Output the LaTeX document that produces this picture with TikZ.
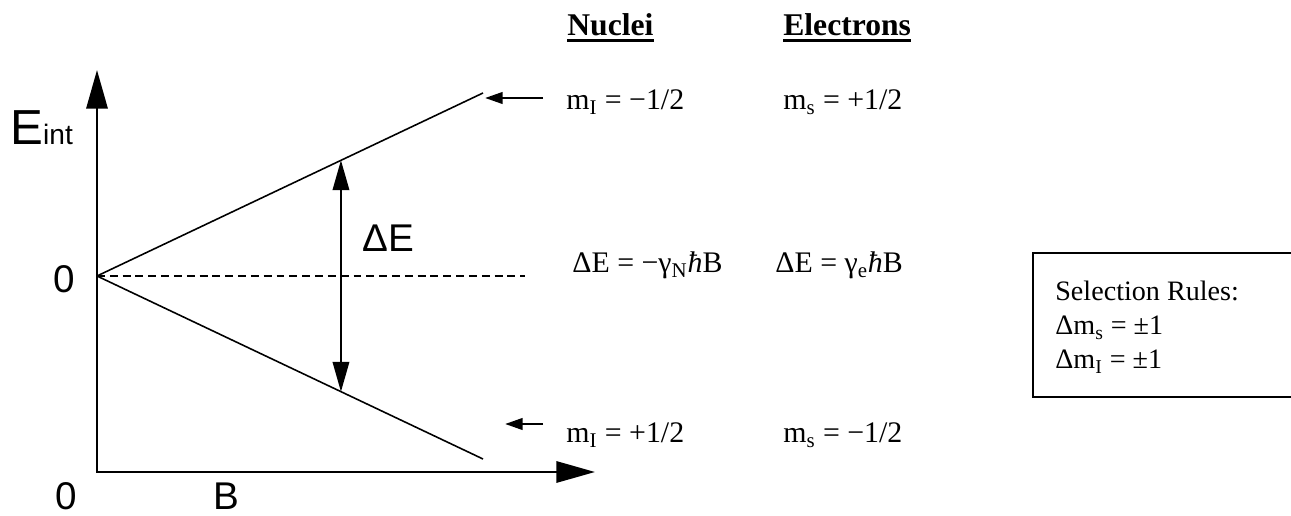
\documentclass[tikz,border=0pt]{standalone}
\usepackage{fontspec}
\setmainfont{Liberation Serif}
\newfontfamily\arialfont{Liberation Sans}
\usetikzlibrary{arrows.meta}
\usetikzlibrary{calc}

\tikzset{
  axis/.style={line width=1.7pt,{Triangle[length=22pt,width=12pt]}-{Triangle[length=22pt,width=12pt]}},
  level/.style={line width=0.9pt},
  gap/.style={line width=0.85pt,{Triangle[length=17pt,width=9.5pt]}-{Triangle[length=17pt,width=9.5pt]}},
  pointer/.style={line width=1.5pt,-{Triangle[length=10pt,width=6.5pt]}},
  txt/.style={inner sep=0pt,anchor=base west,font=\fontsize{17}{20}\selectfont},
  head/.style={inner sep=0pt,anchor=base west,font=\bfseries\fontsize{18}{21}\selectfont},
  rule/.style={inner sep=0pt,anchor=base west,font=\fontsize{16}{19}\selectfont},
  sans/.style={inner sep=0pt,anchor=base west,font=\arialfont\fontsize{22}{26}\selectfont},
}
\newcommand{\hb}{{\itshape ħ}}

\begin{document}
\begin{tikzpicture}[x=0.02cm,y=-0.02cm]
        \useasboundingbox (0,0) rectangle (1291,516);
        % axes
        \coordinate (ytip) at (97,70);
        \coordinate (origin) at (97,472);
        \coordinate (xtip) at (595,472);
        \draw[axis] (ytip) -- (origin) -- (xtip);
        \node[sans,font=\arialfont\fontsize{28}{30}\selectfont] (eint) at (10,145) {E{\fontsize{16}{18}\selectfont int}};
        \node[sans] (zeroE) at (53,293) {0};
        \node[sans] (zeroB) at (55,509) {0};
        \node[sans] (bfield) at (213,509) {B};
        % energy levels
        \coordinate (zero) at (97,276);
        \coordinate (up) at (483,93);
        \coordinate (lo) at (483,459);
        \coordinate (dend) at (525,276);
        \draw[level] (zero) -- (up);
        \draw[level] (zero) -- (lo);
        \draw[line width=0.8pt,dash pattern=on 4.5pt off 2.8pt] (zero) -- (dend);
        \coordinate (du) at ($(zero)!0.632!(up)$);
        \coordinate (dl) at ($(zero)!0.632!(lo)$);
        \draw[gap] (du) -- (dl);
        \node[sans] (dE) at (362,252) {ΔE};
        % labels
        \node[head] (nuc) at (567,36) {Nuclei};
        \node[head] (ele) at (783,36) {Electrons};
        \draw[line width=1.4pt] ([yshift=-2.6pt]nuc.base west) -- ([yshift=-2.6pt]nuc.base east);
        \draw[line width=1.4pt] ([yshift=-2.6pt]ele.base west) -- ([yshift=-2.6pt]ele.base east);
        \node[txt] (mIup) at (566,110) {m\textsubscript{I} = −1/2};
        \node[txt] (msup) at (783,110) {m\textsubscript{s} = +1/2};
        \node[txt] (dEN) at (572,273) {ΔE = −γ\textsubscript{N}\hb B};
        \node[txt] (dEe) at (775,273) {ΔE = γ\textsubscript{e}\hb B};
        \node[txt] (mIlo) at (566,443) {m\textsubscript{I} = +1/2};
        \node[txt] (mslo) at (783,443) {m\textsubscript{s} = −1/2};
        \coordinate (pa) at (543,98);
        \coordinate (pb) at (485,98);
        \coordinate (pc) at (543,424);
        \coordinate (pd) at (505,424);
        \draw[pointer] (pa) -- (pb);
        \draw[pointer] (pc) -- (pd);
        % selection rules
        \draw[line width=1.1pt] (1033,253) rectangle (1295,397);
        \node[rule] (sel) at (1055,301) {Selection Rules:};
        \node[rule] (rs) at (1055,335) {Δm\textsubscript{s} = ±1};
        \node[rule] (rI) at (1055,369) {Δm\textsubscript{I} = ±1};
    \end{tikzpicture}
\end{document}
